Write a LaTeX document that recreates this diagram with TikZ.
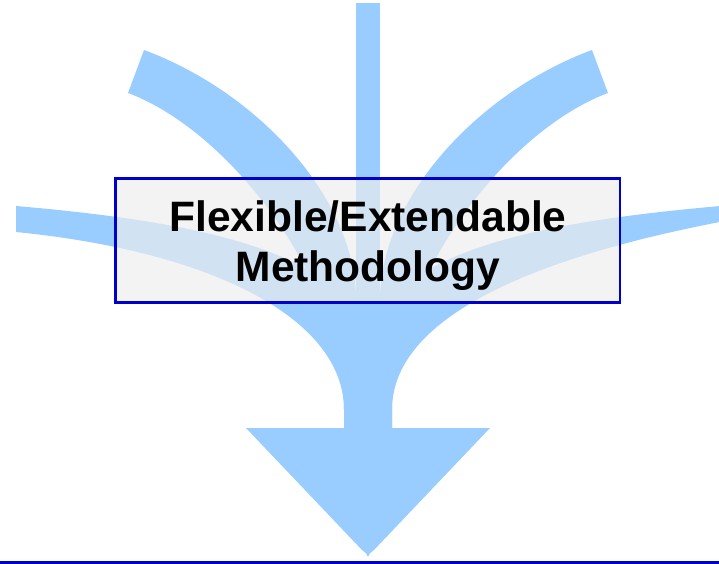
\documentclass[tikz,border=0pt]{standalone}
\usepackage{fontspec}
\setmainfont{Liberation Sans}
\definecolor{armblue}{HTML}{99CCFF}
\definecolor{borderblue}{HTML}{0000CC}
\definecolor{boxfill}{HTML}{EDEDED}
\tikzset{
  arm/.style={fill=armblue, draw=none},
  titlebox/.style={rectangle, draw=borderblue, line width=2.1pt, fill=boxfill, fill opacity=0.68,
    minimum width=378.2pt, minimum height=93.2pt, inner sep=0pt, outer sep=0pt},
  titletext/.style={align=center, inner sep=0pt, text=black,
    font=\bfseries\fontsize{31.9pt}{37.5pt}\selectfont},
  baseline/.style={fill=borderblue, draw=none}
}
\begin{document}
\begin{tikzpicture}[x=0.75pt, y=-0.75pt]
\useasboundingbox (0,0) rectangle (719,564);
\clip (0,0) rectangle (719,564);
% vertical bar
\fill[arm] (356,3) rectangle (380,430);
% left side arm
\fill[arm] (16,206) .. controls (200,222) and (330,250) .. (368,330) -- (368,430) -- (344,430) -- (344,410)
  .. controls (344,320) and (216,252) .. (16,232) -- cycle;
% right side arm
\fill[arm] (725,205.6) .. controls (536,222) and (406,250) .. (368,330) -- (368,430) -- (392,430) -- (392,410)
  .. controls (392,320) and (525,259) .. (725,221) -- cycle;
% left diagonal arm
\fill[arm] (144,50) .. controls (260,93) and (356,200) .. (356,300) -- (356,430) -- (344,430) -- (344,410)
  .. controls (344,280) and (230,131) .. (128,93) -- cycle;
% right diagonal arm
\fill[arm] (592,50) .. controls (476,93) and (380,200) .. (380,300) -- (380,430) -- (392,430) -- (392,410)
  .. controls (392,280) and (506,131) .. (608,93) -- cycle;
% arrow head
\fill[arm] (246,428) -- (490,428) -- (374,550) .. controls (369,554) .. (368,557)
  .. controls (367,554) .. (362,550) -- cycle;
% box and title
\node[titlebox] (box) at (367.9,240.65) {};
\node[titletext] (title) at (368,245.7) {Flexible/Extendable\\Methodology};
% bottom rule
\fill[baseline] (0,561) rectangle (719,564.5);
\end{tikzpicture}
\end{document}
